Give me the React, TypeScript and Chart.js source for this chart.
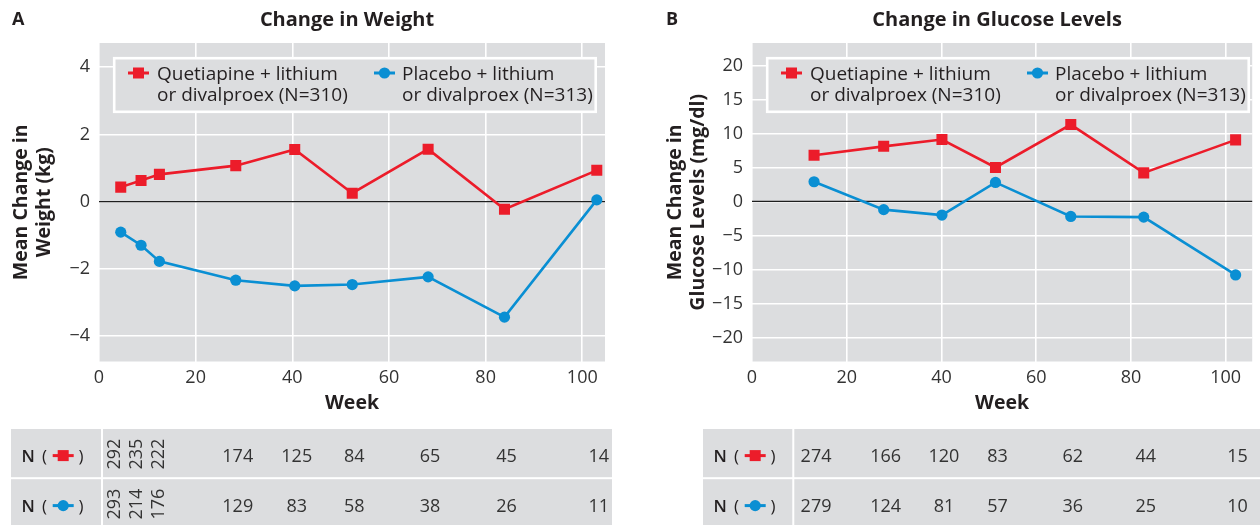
import { useEffect, useRef } from 'react';
import { Chart, registerables } from 'chart.js';

Chart.register(...registerables);

const RED = '#ec1c2a';
const BLUE = '#0a8fd3';
const GRAY = '#dcdddf';
const TEXT = '#231f20';
const TICK = '#333333';
const FONT = '"Open Sans", "Noto Sans", sans-serif';

// Panel A: change in weight (kg)
const weightWeeks = [4.5, 8.7, 12.5, 28.3, 40.5, 52.4, 68.1, 83.9, 103.0];
const weightQuetiapine = [0.43, 0.63, 0.81, 1.07, 1.55, 0.25, 1.56, -0.23, 0.93];
const weightPlacebo = [-0.91, -1.3, -1.78, -2.34, -2.51, -2.47, -2.24, -3.44, 0.05];
const weightNQuetiapine = [292, 235, 222, 174, 125, 84, 65, 45, 14];
const weightNPlacebo = [293, 214, 176, 129, 83, 58, 38, 26, 11];
const weightYTicks = [-4, -2, 0, 2, 4];

// Panel B: change in glucose levels (mg/dl)
const glucoseWeeks = [13.1, 27.8, 40.1, 51.4, 67.3, 82.7, 102.1];
const glucoseQuetiapine = [6.8, 8.1, 9.1, 5.0, 11.3, 4.2, 9.05];
const glucosePlacebo = [2.9, -1.2, -2.0, 2.8, -2.2, -2.3, -10.8];
const glucoseNQuetiapine = [274, 166, 120, 83, 62, 44, 15];
const glucoseNPlacebo = [279, 124, 81, 57, 36, 25, 10];
const glucoseYTicks = [-20, -15, -10, -5, 0, 5, 10, 15, 20];

const xTicks = [0, 20, 40, 60, 80, 100];
const legendQuetiapine = ['Quetiapine + lithium', 'or divalproex (N=310)'];
const legendPlacebo = ['Placebo + lithium', 'or divalproex (N=313)'];

type Panel = {
  letter: string;
  title: string;
  yTitle: string[];
  weeks: number[];
  quet: number[];
  plac: number[];
  nQuet: number[];
  nPlac: number[];
  rotatedCols: number;
  xMax: number;
  yMin: number;
  yMax: number;
  yTicks: number[];
  yAxisWidth: number;
  padRight: number;
  yTitlePad: number;
  letterX: number;
  tableLeft: number;
  tableRight: number;
  tableSep: number;
};

const panelA: Panel = {
  letter: 'A',
  title: 'Change in Weight',
  yTitle: ['Mean Change in', 'Weight (kg)'],
  weeks: weightWeeks,
  quet: weightQuetiapine,
  plac: weightPlacebo,
  nQuet: weightNQuetiapine,
  nPlac: weightNPlacebo,
  rotatedCols: 3,
  xMax: 104.7,
  yMin: -4.76,
  yMax: 4.72,
  yTicks: weightYTicks,
  yAxisWidth: 99,
  padRight: 25,
  yTitlePad: 9.3,
  letterX: 12,
  tableLeft: 11,
  tableRight: 612,
  tableSep: 102,
};

const panelB: Panel = {
  letter: 'B',
  title: 'Change in Glucose Levels',
  yTitle: ['Mean Change in', 'Glucose Levels (mg/dl)'],
  weeks: glucoseWeeks,
  quet: glucoseQuetiapine,
  plac: glucosePlacebo,
  nQuet: glucoseNQuetiapine,
  nPlac: glucoseNPlacebo,
  rotatedCols: 0,
  xMax: 105.6,
  yMin: -23.52,
  yMax: 23.29,
  yTicks: glucoseYTicks,
  yAxisWidth: 122,
  padRight: 0,
  yTitlePad: 33.3,
  letterX: 36,
  tableLeft: 73,
  tableRight: 630,
  tableSep: 163.3,
};

function drawMarker(ctx: CanvasRenderingContext2D, kind: 'square' | 'circle', cx: number, cy: number, color: string) {
  ctx.save();
  ctx.strokeStyle = color;
  ctx.fillStyle = color;
  ctx.lineWidth = 3;
  ctx.beginPath();
  ctx.moveTo(cx - 10.5, cy);
  ctx.lineTo(cx + 10.5, cy);
  ctx.stroke();
  if (kind === 'square') {
    ctx.fillRect(cx - 5.5, cy - 5.5, 11, 11);
  } else {
    ctx.beginPath();
    ctx.arc(cx, cy, 5.6, 0, Math.PI * 2);
    ctx.fill();
  }
  ctx.restore();
}

function makePlugin(p: Panel) {
  return {
    id: 'panelDecor',
    beforeDraw(chart: any) {
      const { ctx, chartArea: a } = chart;
      ctx.save();
      ctx.fillStyle = GRAY;
      ctx.fillRect(a.left, a.top, a.right - a.left, a.bottom - a.top);
      ctx.restore();
    },
    beforeDatasetsDraw(chart: any) {
      const { ctx, chartArea: a } = chart;
      const y0 = chart.scales.y.getPixelForValue(0);
      ctx.save();
      ctx.strokeStyle = '#1e1e1e';
      ctx.lineWidth = 1.3;
      ctx.beginPath();
      ctx.moveTo(a.left, y0);
      ctx.lineTo(a.right, y0);
      ctx.stroke();

      // legend box
      const bx = a.left + 15.2;
      const by = 58.2;
      const bw = 481.5;
      const bh = 53.6;
      ctx.fillStyle = GRAY;
      ctx.fillRect(bx, by, bw, bh);
      ctx.strokeStyle = '#ffffff';
      ctx.lineWidth = 2.6;
      ctx.strokeRect(bx, by, bw, bh);

      ctx.font = `19px ${FONT}`;
      ctx.fillStyle = TEXT;
      ctx.textAlign = 'left';
      ctx.textBaseline = 'alphabetic';
      const top = 57;
      drawMarker(ctx, 'square', bx + 24.3, top + 16, RED);
      ctx.fillStyle = TEXT;
      ctx.fillText(legendQuetiapine[0], bx + 42.8, top + 23);
      ctx.fillText(legendQuetiapine[1], bx + 42.8, top + 44);
      drawMarker(ctx, 'circle', bx + 270.3, top + 16, BLUE);
      ctx.fillStyle = TEXT;
      ctx.fillText(legendPlacebo[0], bx + 287.8, top + 23);
      ctx.fillText(legendPlacebo[1], bx + 287.8, top + 44);
      ctx.restore();
    },
    afterDraw(chart: any) {
      const { ctx, chartArea: a } = chart;
      const xs = chart.scales.x;
      ctx.save();
      // panel letter and title
      ctx.fillStyle = TEXT;
      ctx.font = `bold 18px ${FONT}`;
      ctx.textBaseline = 'alphabetic';
      ctx.textAlign = 'left';
      ctx.fillText(p.letter, p.letterX, 25);
      ctx.font = `bold 20px ${FONT}`;
      ctx.textAlign = 'center';
      ctx.fillText(p.title, (a.left + a.right) / 2 - 5, 26);

      // N table
      const tTop = 429;
      const tBottom = 530;
      ctx.fillStyle = GRAY;
      ctx.fillRect(p.tableLeft, tTop, p.tableRight - p.tableLeft, tBottom - tTop);
      ctx.fillStyle = '#ffffff';
      ctx.fillRect(p.tableLeft, 477.2, p.tableRight - p.tableLeft, 2);
      ctx.fillRect(p.tableSep - 1, tTop, 2, tBottom - tTop);

      const baselines = [461.6, 511.6];
      const rows = [p.nQuet, p.nPlac];
      rows.forEach((row, r) => {
        const bl = baselines[r];
        const L = p.tableLeft;
        ctx.fillStyle = TEXT;
        ctx.textAlign = 'left';
        ctx.font = `600 17px ${FONT}`;
        ctx.fillText('N', L + 10.5, bl);
        ctx.font = `17px ${FONT}`;
        ctx.fillText('(', L + 31, bl);
        ctx.fillText(')', L + 67.5, bl);
        drawMarker(ctx, r === 0 ? 'square' : 'circle', L + 52.2, bl - 6, r === 0 ? RED : BLUE);

        ctx.fillStyle = TICK;
        ctx.font = `18px ${FONT}`;
        row.forEach((n, i) => {
          if (i < p.rotatedCols) {
            const cx = p.tableSep + 11.7 + 22 * i;
            ctx.save();
            ctx.translate(cx + 6.4, bl - 7.5);
            ctx.rotate(-Math.PI / 2);
            ctx.textAlign = 'center';
            ctx.fillText(String(n), 0, 0);
            ctx.restore();
          } else {
            const x = xs.getPixelForValue(p.weeks[i]) + 2;
            ctx.textAlign = 'center';
            ctx.fillText(String(n), x, bl);
          }
        });
      });
      ctx.restore();
    },
  };
}

function buildChart(canvas: HTMLCanvasElement, p: Panel) {
  const fmt = (v: number | string) => String(v).replace('-', '\u2212');
  return new Chart(canvas, {
    type: 'line',
    data: {
      datasets: [
        {
          label: legendQuetiapine.join(' '),
          data: p.weeks.map((w, i) => ({ x: w, y: p.quet[i] })),
          borderColor: RED,
          backgroundColor: RED,
          borderWidth: 2.6,
          pointStyle: 'rect',
          pointRadius: 7.8,
          pointBackgroundColor: RED,
          pointBorderWidth: 0,
          tension: 0,
        },
        {
          label: legendPlacebo.join(' '),
          data: p.weeks.map((w, i) => ({ x: w, y: p.plac[i] })),
          borderColor: BLUE,
          backgroundColor: BLUE,
          borderWidth: 2.6,
          pointStyle: 'circle',
          pointRadius: 5.6,
          pointBackgroundColor: BLUE,
          pointBorderWidth: 0,
          tension: 0,
        },
      ],
    },
    options: {
      animation: false,
      responsive: false,
      maintainAspectRatio: false,
      layout: { padding: { left: 0, right: p.padRight, top: 43, bottom: 101.5 } },
      plugins: {
        legend: { display: false },
        tooltip: { enabled: false },
        title: { display: false },
      },
      scales: {
        x: {
          type: 'linear',
          min: 0,
          max: p.xMax,
          afterBuildTicks: (s: any) => {
            s.ticks = xTicks.map((v) => ({ value: v }));
          },
          afterFit: (s: any) => {
            s.height = 62;
          },
          grid: { color: '#ffffff', lineWidth: 1.6, drawTicks: false },
          border: { display: false },
          ticks: {
            font: { family: FONT, size: 18 },
            color: TICK,
            padding: 6,
            maxRotation: 0,
            autoSkip: false,
          },
          title: {
            display: true,
            text: 'Week',
            font: { family: FONT, size: 19.5, weight: 'bold' },
            color: TEXT,
            padding: { top: 0, bottom: 8 },
          },
        },
        y: {
          type: 'linear',
          min: p.yMin,
          max: p.yMax,
          afterBuildTicks: (s: any) => {
            s.ticks = p.yTicks.map((v) => ({ value: v }));
          },
          afterFit: (s: any) => {
            s.width = p.yAxisWidth;
          },
          grid: { color: '#ffffff', lineWidth: 1.6, drawTicks: false },
          border: { display: false },
          ticks: {
            font: { family: FONT, size: 18 },
            color: TICK,
            padding: 9,
            autoSkip: false,
            callback: (v: any) => fmt(v),
          },
          title: {
            display: true,
            text: p.yTitle,
            font: { family: FONT, size: 19.5, weight: 'bold', lineHeight: 1.2 },
            color: TEXT,
            padding: { top: p.yTitlePad, bottom: 0 },
          },
        },
      },
    },
    plugins: [makePlugin(p)],
  } as any);
}

export default function App() {
  const leftRef = useRef<HTMLCanvasElement>(null);
  const rightRef = useRef<HTMLCanvasElement>(null);

  useEffect(() => {
    const charts = [buildChart(leftRef.current!, panelA), buildChart(rightRef.current!, panelB)];
    return () => charts.forEach((c) => c.destroy());
  }, []);

  return (
    <div style={{ position: 'absolute', left: 0, top: 0, width: 1260, height: 525, overflow: 'hidden', background: '#ffffff' }}>
      <canvas ref={leftRef} width={630} height={525} style={{ position: 'absolute', left: 0, top: 0, width: 630, height: 525 }} />
      <canvas ref={rightRef} width={630} height={525} style={{ position: 'absolute', left: 630, top: 0, width: 630, height: 525 }} />
    </div>
  );
}
